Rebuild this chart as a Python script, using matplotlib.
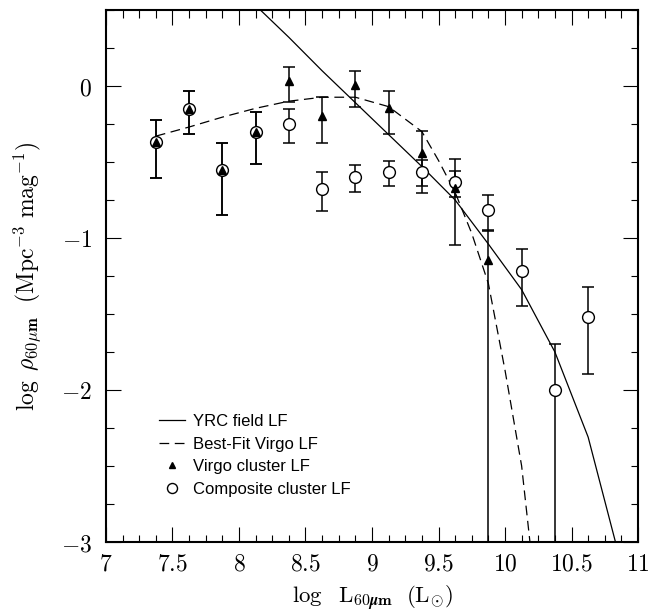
import matplotlib
matplotlib.use('Agg')
import matplotlib.pyplot as plt
import numpy as np
from matplotlib.ticker import MultipleLocator, FuncFormatter

plt.rcParams['mathtext.fontset'] = 'cm'
plt.rcParams['lines.scale_dashes'] = False

# YRC field LF (solid line)
field_x = [8.125, 8.375, 8.625, 8.875, 9.125, 9.375, 9.625, 9.875, 10.125, 10.375, 10.625, 10.875]
field_y = [0.53, 0.32, 0.10, -0.11, -0.32, -0.53, -0.75, -1.04, -1.34, -1.75, -2.31, -3.15]

# best-fit Virgo LF (dashed line)
fit_x = [7.375, 7.625, 7.875, 8.125, 8.375, 8.625, 8.875, 9.125, 9.375, 9.5, 9.625, 9.75, 9.875, 10.0, 10.125, 10.2]
fit_y = [-0.33, -0.27, -0.205, -0.147, -0.10, -0.074, -0.074, -0.136, -0.30, -0.49, -0.70, -0.97, -1.30, -1.87, -2.50, -3.1]

# Virgo cluster LF (filled triangles)
virgo_x = [7.375, 7.625, 7.875, 8.125, 8.375, 8.625, 8.875, 9.125, 9.375, 9.625, 9.875]
virgo_y = [-0.37, -0.15, -0.55, -0.305, 0.033, -0.195, 0.004, -0.147, -0.443, -0.673, -1.145]
virgo_hi = [-0.224, -0.03, -0.373, -0.169, 0.123, -0.072, 0.099, -0.03, -0.294, -0.557, -0.95]
virgo_lo = [-0.603, -0.316, -0.851, -0.511, -0.103, -0.373, -0.138, -0.316, -0.66, -1.046, -3.5]

# composite cluster LF (open circles)
comp_x = [7.375, 7.625, 7.875, 8.125, 8.375, 8.625, 8.875, 9.125, 9.375, 9.625, 9.875, 10.125, 10.375, 10.625]
comp_y = [-0.37, -0.15, -0.55, -0.305, -0.25, -0.675, -0.599, -0.566, -0.564, -0.629, -0.816, -1.217, -2.0, -1.517]
comp_hi = [-0.224, -0.03, -0.373, -0.169, -0.149, -0.566, -0.52, -0.491, -0.487, -0.482, -0.72, -1.072, -1.697, -1.32]
comp_lo = [-0.603, -0.316, -0.851, -0.511, -0.373, -0.82, -0.695, -0.656, -0.706, -0.728, -0.952, -1.445, -3.5, -1.893]

fig = plt.figure(figsize=(6.69, 6.12), dpi=100)
ax = fig.add_axes([0.1584, 0.1144, 0.7953, 0.8693])

ax.plot(field_x, field_y, 'k-', lw=0.9, label='YRC field LF')
ax.plot(fit_x, fit_y, color='k', lw=0.9, dashes=(7, 4), label='Best-Fit Virgo LF')

vy = np.array(virgo_y)
cy = np.array(comp_y)
ax.errorbar(comp_x, cy, yerr=[cy - np.array(comp_lo), np.array(comp_hi) - cy],
            fmt='none', ecolor='k', elinewidth=1.1, capsize=4.3, capthick=1.1)
ax.errorbar(virgo_x, vy, yerr=[vy - np.array(virgo_lo), np.array(virgo_hi) - vy],
            fmt='none', ecolor='k', elinewidth=1.1, capsize=4.3, capthick=1.1)
ax.plot(comp_x, comp_y, 'o', ms=8.5, mfc='white', mec='k', mew=1.0, ls='none',
        label='Composite cluster LF')
ax.plot(virgo_x, virgo_y, '^', ms=5.5, color='k', ls='none', label='Virgo cluster LF')

ax.set_xlim(7, 11)
ax.set_ylim(-3, 0.5)

ax.xaxis.set_major_locator(MultipleLocator(0.5))
ax.xaxis.set_minor_locator(MultipleLocator(0.125))
ax.yaxis.set_major_locator(MultipleLocator(1))
ax.yaxis.set_minor_locator(MultipleLocator(0.25))
fmt = FuncFormatter(lambda v, p: r'$%g$' % v)
ax.xaxis.set_major_formatter(fmt)
ax.yaxis.set_major_formatter(fmt)
ax.tick_params(which='both', direction='in', top=True, right=True, labelsize=17)
ax.tick_params(which='major', length=11, width=0.8)
ax.tick_params(which='minor', length=5.4, width=0.8)
ax.tick_params(axis='x', pad=7)
ax.tick_params(axis='y', pad=10)
for s in ax.spines.values():
    s.set_linewidth(1.5)

ax.set_xlabel(r'$\log\ \ \mathrm{L}_{\mathbf{60}\boldsymbol{\mu}\mathbf{m}}\ \ (\mathrm{L}_{\odot})$', fontsize=16.5)
ax.set_ylabel(r'$\log\ \rho_{\mathbf{60}\mu\mathbf{m}}\ \ (\mathrm{Mpc}^{-3}\ \mathrm{mag}^{-1})$', fontsize=17)
ax.xaxis.set_label_coords(0.5, -0.078)
ax.yaxis.set_label_coords(-0.118, 0.5)

h, l = ax.get_legend_handles_labels()
order = [0, 1, 3, 2]
ax.legend([h[i] for i in order], [l[i] for i in order], loc='upper left',
          bbox_to_anchor=(0.1, 0.24), frameon=False, borderpad=0, borderaxespad=0,
          handlelength=1.56, handletextpad=0.46, labelspacing=0.45, markerscale=0.85,
          prop={'family': 'Liberation Sans', 'size': 12})

fig.savefig('out.png', dpi=100)
